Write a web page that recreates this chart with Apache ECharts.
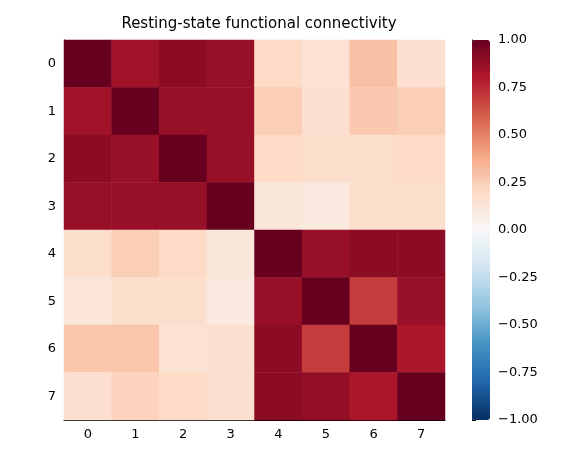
<!DOCTYPE html>
<html><head><meta charset="utf-8">
<script src="https://cdn.jsdelivr.net/npm/echarts@6/dist/echarts.min.js"></script>
<style>html,body{margin:0;background:#fff}#c{width:572px;height:462px}</style>
</head><body><div id="c"></div>
<script>
var labels = ['0','1','2','3','4','5','6','7'];
var matrix = [
  [1.00,0.85,0.90,0.87,0.20,0.15,0.30,0.17],
  [0.85,1.00,0.87,0.87,0.25,0.17,0.27,0.25],
  [0.90,0.87,1.00,0.87,0.20,0.18,0.18,0.20],
  [0.87,0.87,0.87,1.00,0.12,0.10,0.18,0.18],
  [0.18,0.25,0.20,0.12,1.00,0.87,0.90,0.90],
  [0.13,0.18,0.18,0.10,0.87,1.00,0.70,0.87],
  [0.28,0.28,0.15,0.17,0.90,0.70,1.00,0.82],
  [0.17,0.23,0.20,0.17,0.90,0.88,0.82,1.00]
];
var cells = [];
matrix.forEach(function (row, i) {
  row.forEach(function (v, j) { cells.push([j, i, v]); });
});
var rdbu = ['#053061','#2166ac','#4393c3','#92c5de','#d1e5f0','#f7f7f7','#fddbc7','#f4a582','#d6604d','#b2182b','#67001f'];
var font = 'DejaVu Sans';
var chart = echarts.init(document.getElementById('c'));
chart.setOption({
  animation: false,
  title: {text: 'Resting-state functional connectivity', left: 254, top: 12, textAlign: 'center',
    textStyle: {fontFamily: font, fontSize: 15, fontWeight: 'normal', color: '#000'}},
  grid: [
    {left: 64, top: 40, width: 381, height: 380},
    {left: 472, top: 40, width: 18, height: 380}
  ],
  xAxis: [
    {type: 'category', data: labels, gridIndex: 0,
      axisLine: {lineStyle: {color: '#000'}}, axisTick: {alignWithLabel: true, length: 4, lineStyle: {color: '#000'}},
      axisLabel: {fontFamily: font, fontSize: 13, color: '#000'}, splitLine: {show: false}},
    {type: 'value', gridIndex: 1, show: false, min: 0, max: 1}
  ],
  yAxis: [
    {type: 'category', data: labels, inverse: true, gridIndex: 0,
      axisLine: {lineStyle: {color: '#000'}}, axisTick: {alignWithLabel: true, length: 4, lineStyle: {color: '#000'}},
      axisLabel: {fontFamily: font, fontSize: 13, color: '#000'}, splitLine: {show: false}},
    {type: 'value', gridIndex: 1, position: 'right', min: -1, max: 1, interval: 0.25,
      axisLine: {show: true, lineStyle: {color: '#000'}}, axisTick: {show: true, length: 4, lineStyle: {color: '#000'}},
      axisLabel: {fontFamily: font, fontSize: 13, color: '#000', formatter: function (v) { return (v < 0 ? '\u2212' + (-v).toFixed(2) : v.toFixed(2)); }},
      splitLine: {show: false}}
  ],
  visualMap: {
    min: -1, max: 1, calculable: false, seriesIndex: 0,
    left: 472, top: 40, itemWidth: 18, itemHeight: 380, padding: 0,
    text: ['', ''], showLabel: false,
    inRange: {color: rdbu}
  },
  series: [
    {type: 'heatmap', xAxisIndex: 0, yAxisIndex: 0, data: cells, itemStyle: {borderWidth: 0}},
    {type: 'line', xAxisIndex: 1, yAxisIndex: 1, data: [], silent: true}
  ]
});
</script></body></html>
